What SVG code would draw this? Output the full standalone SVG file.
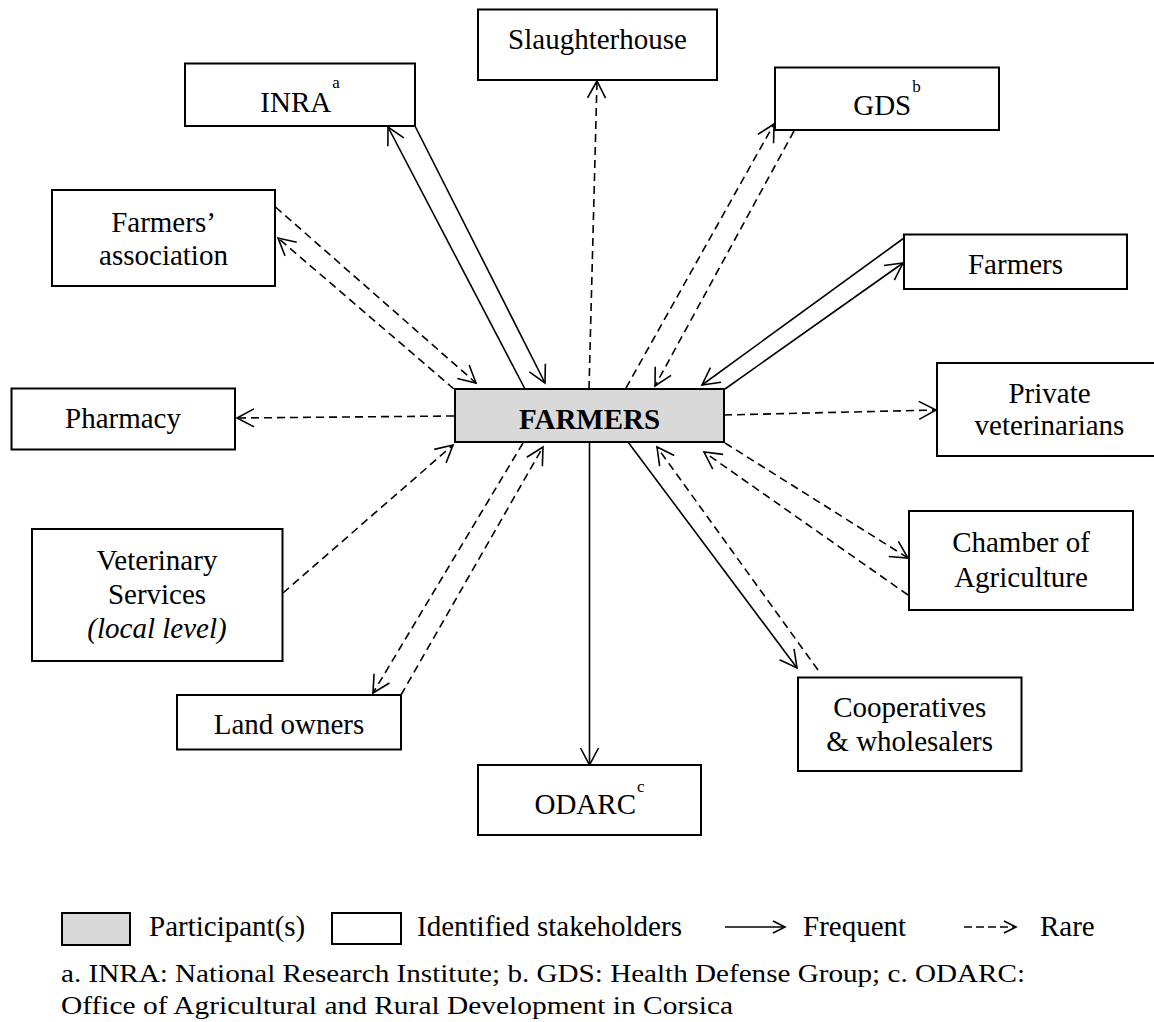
<svg xmlns="http://www.w3.org/2000/svg" width="1154" height="1022" viewBox="0 0 1154 1022">
<style>
.box{fill:#fff;stroke:#000;stroke-width:2}
.main{fill:#d9d9d9;stroke:#000;stroke-width:2}
text{font-family:"Liberation Serif","Times New Roman",serif;font-size:29px;fill:#000}
.c{text-anchor:middle}
.sup{font-size:17px}
.fn{font-size:26px}
.s{fill:none;stroke:#000;stroke-width:1.6}
.d{fill:none;stroke:#000;stroke-width:1.6;stroke-dasharray:8 5}
</style>
<defs>
<marker id="ah" markerUnits="userSpaceOnUse" markerWidth="24" markerHeight="24" refX="19" refY="11" orient="auto" overflow="visible">
<path d="M2,2 L19,11 L2,20" fill="none" stroke="#000" stroke-width="1.6" stroke-dasharray="none"/>
</marker>
<marker id="ahs" markerUnits="userSpaceOnUse" markerWidth="16" markerHeight="16" refX="13" refY="7" orient="auto" overflow="visible">
<path d="M1,1 L13,7 L1,13" fill="none" stroke="#000" stroke-width="1.6" stroke-dasharray="none"/>
</marker>
</defs>

<g id="connectors">
<line class="s" x1="415" y1="126" x2="545" y2="383" marker-end="url(#ah)"/>
<line class="s" x1="525" y1="389" x2="388" y2="127" marker-end="url(#ah)"/>
<line class="d" x1="589" y1="389" x2="597" y2="81" marker-end="url(#ah)"/>
<line class="d" x1="626" y1="388" x2="774" y2="124" marker-end="url(#ah)"/>
<line class="d" x1="794" y1="131" x2="655" y2="386" marker-end="url(#ah)"/>
<line class="s" x1="904" y1="238" x2="702" y2="385" marker-end="url(#ah)"/>
<line class="s" x1="725" y1="389" x2="903" y2="263" marker-end="url(#ah)"/>
<line class="d" x1="724" y1="415" x2="936" y2="410" marker-end="url(#ah)"/>
<line class="d" x1="725" y1="443" x2="908" y2="558" marker-end="url(#ah)"/>
<line class="d" x1="908" y1="595" x2="704" y2="452" marker-end="url(#ah)"/>
<line class="s" x1="628" y1="442" x2="797" y2="668" marker-end="url(#ah)"/>
<line class="d" x1="818" y1="670" x2="657" y2="447" marker-end="url(#ah)"/>
<line class="s" x1="589.5" y1="442" x2="589.5" y2="765" marker-end="url(#ah)"/>
<line class="d" x1="523" y1="443" x2="373" y2="693" marker-end="url(#ah)"/>
<line class="d" x1="401" y1="695" x2="543" y2="447" marker-end="url(#ah)"/>
<line class="d" x1="283" y1="593" x2="453" y2="445" marker-end="url(#ah)"/>
<line class="d" x1="454" y1="416" x2="237" y2="418" marker-end="url(#ah)"/>
<line class="d" x1="275.5" y1="207" x2="476" y2="383" marker-end="url(#ah)"/>
<line class="d" x1="454" y1="389" x2="278" y2="238" marker-end="url(#ah)"/>
</g>

<g id="farmers-main">
<rect class="main" x="455" y="389" width="269" height="53"/>
<text class="c" x="589.5" y="429" font-weight="bold">FARMERS</text>
</g>
<g id="slaughterhouse">
<rect class="box" x="478" y="9.5" width="239" height="70.5"/>
<text class="c" x="597.5" y="49">Slaughterhouse</text>
</g>
<g id="inra">
<rect class="box" x="185" y="63.5" width="230" height="62.5"/>
<text class="c" x="300" y="112">INRA<tspan class="sup" dx="1" dy="-24">a</tspan></text>
</g>
<g id="gds">
<rect class="box" x="775" y="67.5" width="224" height="62.5"/>
<text class="c" x="887" y="115">GDS<tspan class="sup" dx="1" dy="-23">b</tspan></text>
</g>
<g id="farmers-assoc">
<rect class="box" x="52" y="190" width="223" height="96"/>
<text class="c" x="163.5" y="232">Farmers’</text>
<text class="c" x="163.5" y="265">association</text>
</g>
<g id="farmers-peer">
<rect class="box" x="904" y="234.5" width="223" height="54.5"/>
<text class="c" x="1015.5" y="274">Farmers</text>
</g>
<g id="pharmacy">
<rect class="box" x="11.5" y="388.5" width="223.5" height="61"/>
<text class="c" x="123" y="428">Pharmacy</text>
</g>
<g id="private-vets">
<rect class="box" x="937" y="363" width="225" height="93"/>
<text class="c" x="1049.5" y="403">Private</text>
<text class="c" x="1049.5" y="435">veterinarians</text>
</g>
<g id="vet-services">
<rect class="box" x="32" y="529" width="250.5" height="132"/>
<text class="c" x="157" y="570">Veterinary</text>
<text class="c" x="157" y="604">Services</text>
<text class="c" x="157" y="638" font-style="italic">(local level)</text>
</g>
<g id="chamber">
<rect class="box" x="909" y="511" width="224" height="99"/>
<text class="c" x="1021" y="552">Chamber of</text>
<text class="c" x="1021" y="587">Agriculture</text>
</g>
<g id="land-owners">
<rect class="box" x="177" y="695" width="224" height="54.5"/>
<text class="c" x="289" y="734">Land owners</text>
</g>
<g id="cooperatives">
<rect class="box" x="798" y="677.5" width="223.5" height="93.5"/>
<text class="c" x="909.7" y="717">Cooperatives</text>
<text class="c" x="909.7" y="751">&amp; wholesalers</text>
</g>
<g id="odarc">
<rect class="box" x="478" y="765" width="223" height="70"/>
<text class="c" x="589.5" y="814">ODARC<tspan class="sup" dx="1" dy="-22">c</tspan></text>
</g>

<g id="legend">
<rect class="main" x="62" y="913" width="68" height="32"/>
<text x="149" y="936">Participant(s)</text>
<rect class="box" x="332" y="913" width="69" height="31"/>
<text x="417" y="936">Identified stakeholders</text>
<line class="s" x1="725" y1="927" x2="785" y2="927" marker-end="url(#ahs)"/>
<text x="803" y="936">Frequent</text>
<line class="d" x1="964" y1="927" x2="1016" y2="927" marker-end="url(#ahs)" style="stroke-dasharray:8 4"/>
<text x="1040" y="936">Rare</text>
<text class="fn" x="61" y="982" textLength="964" lengthAdjust="spacingAndGlyphs">a. INRA: National Research Institute; b. GDS: Health Defense Group; c. ODARC:</text>
<text class="fn" x="61" y="1014" textLength="672" lengthAdjust="spacingAndGlyphs">Office of Agricultural and Rural Development in Corsica</text>
</g>
</svg>
